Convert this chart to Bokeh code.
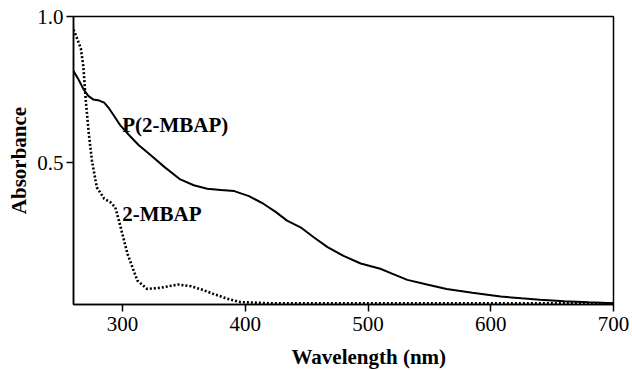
from bokeh.plotting import figure
from bokeh.models import Range1d, FixedTicker, Title
from bokeh.core.properties import value
from bokeh.embed import file_html
from bokeh.resources import INLINE

# P(2-MBAP) absorbance spectrum (solid)
poly_wl = [260, 264, 268, 272, 276, 281, 285, 289, 293, 298, 305, 313, 323, 334, 347,
           358, 369, 380, 391, 403, 415, 425, 434, 445, 456, 467, 480, 494, 510, 521,
           532, 548, 564, 585, 608, 625, 640, 660, 680, 700]
poly_abs = [0.813, 0.785, 0.752, 0.728, 0.716, 0.712, 0.705, 0.685, 0.660, 0.628, 0.595,
            0.560, 0.525, 0.485, 0.442, 0.422, 0.410, 0.406, 0.402, 0.385, 0.358, 0.330,
            0.301, 0.278, 0.243, 0.210, 0.180, 0.154, 0.136, 0.117, 0.098, 0.082, 0.067,
            0.054, 0.041, 0.035, 0.030, 0.025, 0.021, 0.018]

# 2-MBAP monomer absorbance spectrum (dotted)
mono_wl = [260, 262, 266, 268, 270, 272.5, 275, 279, 285, 290, 294, 297, 304, 312, 320,
           331, 345, 356, 365, 374, 385, 396, 420, 500, 600, 700]
mono_abs = [0.955, 0.935, 0.890, 0.830, 0.712, 0.598, 0.507, 0.415, 0.376, 0.364, 0.347,
            0.301, 0.187, 0.096, 0.067, 0.071, 0.082, 0.076, 0.064, 0.050, 0.034, 0.022,
            0.018, 0.018, 0.018, 0.018]

x_ticks = [300, 400, 500, 600, 700]
y_ticks = [0.5, 1.0]
y_tick_labels = {0.5: "0.5", 1.0: "1.0"}

series_labels = ["P(2-MBAP)", "2-MBAP"]
label_x = [299.7, 299.7]
label_y = [0.627, 0.325]

x_title = "Wavelength (nm)"
y_title = "Absorbance"

FONT = "Liberation Serif"

p = figure(width=632, height=370, output_backend="svg", toolbar_location=None,
           x_range=Range1d(260, 700), y_range=Range1d(0.0137, 1.0),
           min_border_left=73, min_border_right=19, min_border_top=16,
           min_border_bottom=66, background_fill_color="white",
           border_fill_color="white")

p.grid.visible = False
p.outline_line_color = "black"
p.outline_line_width = 1.5

for ax in (p.xaxis[0], p.yaxis[0]):
    ax.axis_line_color = "black"
    ax.axis_line_width = 1.5
    ax.major_tick_line_color = "black"
    ax.major_tick_line_width = 1.5
    ax.major_tick_out = 7
    ax.major_tick_in = 0
    ax.minor_tick_line_color = None
    ax.major_label_text_font = FONT
    ax.major_label_text_font_size = "21px"
    ax.major_label_text_color = "black"
    ax.major_label_standoff = 3

p.xaxis.major_label_standoff = 5
p.xaxis.ticker = FixedTicker(ticks=x_ticks)
p.yaxis.ticker = FixedTicker(ticks=y_ticks)
p.yaxis.major_label_overrides = y_tick_labels

# small blank spacer between x tick labels and the x title
p.xaxis.axis_label = " "
p.xaxis.axis_label_text_font_size = "6px"
p.xaxis.axis_label_standoff = 0

p.yaxis.axis_label = y_title
p.yaxis.axis_label_text_font = FONT
p.yaxis.axis_label_text_font_size = "21px"
p.yaxis.axis_label_text_font_style = "bold"
p.yaxis.axis_label_text_color = "black"
p.yaxis.axis_label_standoff = 3

xt = Title(text=x_title, align="left", offset=218, text_font=FONT,
           text_font_size="21px", text_font_style="bold", text_color="black",
           standoff=0)
p.add_layout(xt, "below")

p.line(poly_wl, poly_abs, line_color="black", line_width=2)
p.line(mono_wl, mono_abs, line_color="black", line_width=2.6, line_dash="2 2")

p.text(x=label_x, y=label_y, text=series_labels, text_font=value(FONT),
       text_font_size="21px", text_font_style="bold", text_color="black",
       text_baseline="alphabetic", text_align="left")

open("out.html", "w").write(file_html(p, INLINE))
